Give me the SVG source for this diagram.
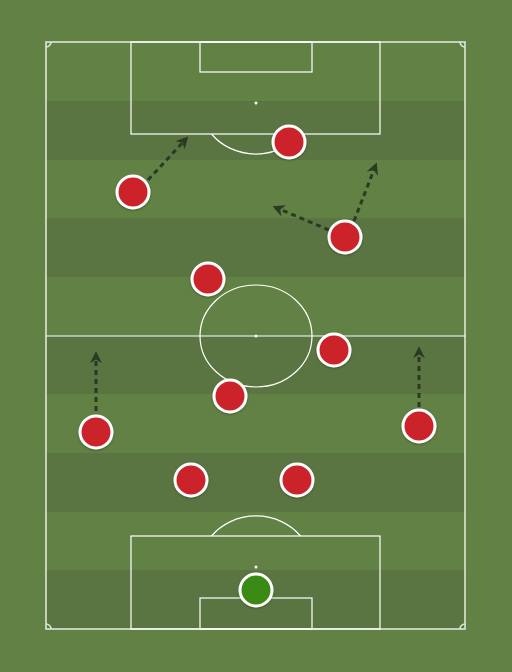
<svg xmlns="http://www.w3.org/2000/svg" width="512" height="672" viewBox="0 0 512 672">
<defs>
<style>
.ln{fill:none;stroke:#ffffff;stroke-width:1.2}
.bd{fill:none;stroke:#dfe6d6;stroke-width:1.6}
.dk{fill:#5a7541}
.pl{fill:#cc222c;stroke:#ffffff;stroke-width:3}
.gk{fill:#3b8a18;stroke:#ffffff;stroke-width:3}
.ar{fill:none;stroke:#2b3a22;stroke-width:3;stroke-dasharray:5 4;marker-end:url(#ah)}
</style>
<marker id="ah" viewBox="0 0 10 10" refX="6" refY="5" markerWidth="4" markerHeight="4" orient="auto" markerUnits="strokeWidth">
<path d="M0,0 L10,5 L0,10 L3,5 Z" fill="#2b3a22"/>
</marker>
<filter id="sh" x="-30%" y="-30%" width="160%" height="160%">
<feDropShadow dx="0" dy="1" stdDeviation="1" flood-color="#000" flood-opacity="0.3"/>
</filter>
</defs>
<rect x="0" y="0" width="512" height="672" fill="#628144"/>
<g id="stripes">
<rect class="dk" x="46" y="101" width="419" height="59"/>
<rect class="dk" x="46" y="218" width="419" height="59"/>
<rect class="dk" x="46" y="336" width="419" height="58"/>
<rect class="dk" x="46" y="453" width="419" height="59"/>
<rect class="dk" x="46" y="570" width="419" height="59"/>
</g>
<g id="pitch">
<rect class="bd" x="46" y="42" width="419" height="587"/>
<line class="ln" x1="46" y1="336" x2="465" y2="336"/>
<ellipse class="ln" cx="256" cy="336" rx="56" ry="51"/>
<circle cx="256" cy="336" r="1.5" fill="#fff"/>
<rect class="ln" x="131" y="42" width="249" height="92"/>
<rect class="ln" x="200" y="42" width="112" height="30"/>
<circle cx="256" cy="103" r="1.5" fill="#fff"/>
<path class="ln" d="M211.5,134 A56,51 0 0 0 300.5,134"/>
<rect class="ln" x="131" y="536" width="249" height="93"/>
<rect class="ln" x="200" y="598" width="112" height="31"/>
<circle cx="256" cy="567" r="1.5" fill="#fff"/>
<path class="ln" d="M211.5,536 A56,51 0 0 1 300.5,536"/>
<path class="bd" d="M46,47 A5,5 0 0 0 51,42"/>
<path class="bd" d="M460,42 A5,5 0 0 0 465,47"/>
<path class="bd" d="M46,624 A5,5 0 0 1 51,629"/>
<path class="bd" d="M460,629 A5,5 0 0 1 465,624"/>
</g>
<g id="connectors">
<line class="ar" x1="148" y1="180" x2="185" y2="140"/>
<line class="ar" x1="329" y1="230" x2="277" y2="208"/>
<line class="ar" x1="354" y1="221" x2="375" y2="167"/>
<line class="ar" x1="96" y1="411" x2="96" y2="356"/>
<line class="ar" x1="419" y1="407" x2="419" y2="351"/>
</g>
<g id="p1" filter="url(#sh)"><circle class="pl" cx="289" cy="142" r="16"/></g>
<g id="p2" filter="url(#sh)"><circle class="pl" cx="133" cy="192" r="16"/></g>
<g id="p3" filter="url(#sh)"><circle class="pl" cx="345" cy="237" r="16"/></g>
<g id="p4" filter="url(#sh)"><circle class="pl" cx="208" cy="279" r="16"/></g>
<g id="p5" filter="url(#sh)"><circle class="pl" cx="334" cy="350" r="16"/></g>
<g id="p6" filter="url(#sh)"><circle class="pl" cx="230" cy="396" r="16"/></g>
<g id="p7" filter="url(#sh)"><circle class="pl" cx="96" cy="432" r="16"/></g>
<g id="p8" filter="url(#sh)"><circle class="pl" cx="419" cy="426" r="16"/></g>
<g id="p9" filter="url(#sh)"><circle class="pl" cx="191" cy="480" r="16"/></g>
<g id="p10" filter="url(#sh)"><circle class="pl" cx="297" cy="480" r="16"/></g>
<g id="gk" filter="url(#sh)"><circle class="gk" cx="256" cy="590" r="16"/></g>
</svg>
